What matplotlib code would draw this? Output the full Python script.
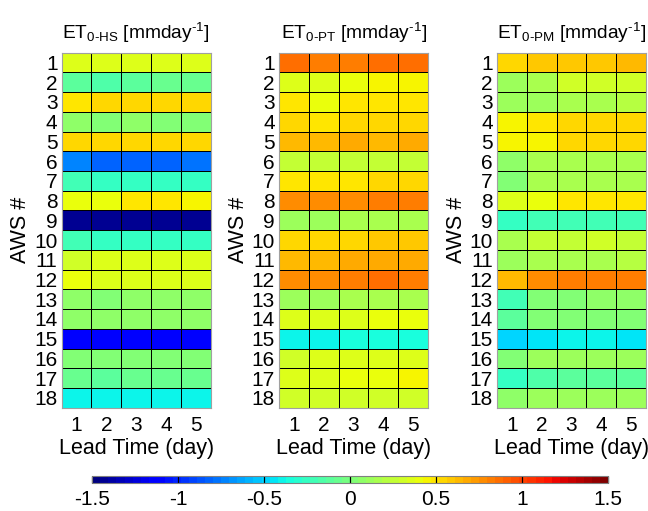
import matplotlib
matplotlib.use("Agg")
import matplotlib.pyplot as plt
import numpy as np

plt.rcParams['font.family'] = ['Liberation Sans', 'DejaVu Sans']
plt.rcParams['mathtext.fontset'] = 'custom'
plt.rcParams['mathtext.rm'] = 'Liberation Sans'
plt.rcParams['mathtext.it'] = 'Liberation Sans'

stations = [str(i) for i in range(1, 19)]
lead_days = [1, 2, 3, 4, 5]

# ET0 bias per station (rows) and lead day (columns)
et0_hs = [
    [0.33, 0.34, 0.35, 0.36, 0.36],
    [-0.10, -0.15, -0.12, -0.08, -0.08],
    [0.47, 0.53, 0.53, 0.56, 0.56],
    [0.05, 0.04, 0.06, 0.04, 0.04],
    [0.55, 0.52, 0.55, 0.56, 0.56],
    [-0.75, -0.80, -0.80, -0.80, -0.78],
    [-0.23, -0.27, -0.25, -0.25, -0.25],
    [0.42, 0.42, 0.47, 0.47, 0.46],
    [-1.45, -1.45, -1.45, -1.45, -1.45],
    [-0.23, -0.25, -0.25, -0.25, -0.26],
    [0.32, 0.33, 0.36, 0.36, 0.36],
    [0.38, 0.36, 0.36, 0.36, 0.36],
    [0.05, 0.04, 0.05, 0.05, 0.05],
    [0.05, 0.05, 0.05, 0.05, 0.05],
    [-1.17, -1.17, -1.17, -1.17, -1.17],
    [0.00, 0.00, 0.01, 0.01, 0.02],
    [-0.08, -0.10, -0.08, -0.08, -0.08],
    [-0.40, -0.40, -0.40, -0.40, -0.42],
]

et0_pt = [
    [0.85, 0.84, 0.84, 0.87, 0.86],
    [0.35, 0.35, 0.38, 0.46, 0.46],
    [0.47, 0.40, 0.47, 0.50, 0.50],
    [0.52, 0.47, 0.52, 0.52, 0.52],
    [0.64, 0.64, 0.66, 0.64, 0.66],
    [0.24, 0.24, 0.24, 0.26, 0.26],
    [0.47, 0.47, 0.50, 0.52, 0.53],
    [0.77, 0.79, 0.79, 0.80, 0.80],
    [0.13, 0.13, 0.15, 0.16, 0.18],
    [0.56, 0.56, 0.56, 0.58, 0.58],
    [0.62, 0.62, 0.68, 0.68, 0.68],
    [0.78, 0.79, 0.83, 0.86, 0.84],
    [0.13, 0.13, 0.15, 0.16, 0.18],
    [0.33, 0.34, 0.36, 0.38, 0.38],
    [-0.38, -0.40, -0.37, -0.36, -0.35],
    [0.32, 0.34, 0.36, 0.36, 0.37],
    [0.35, 0.37, 0.40, 0.40, 0.45],
    [0.30, 0.30, 0.31, 0.32, 0.32],
]

et0_pm = [
    [0.55, 0.57, 0.60, 0.60, 0.61],
    [0.13, 0.15, 0.30, 0.32, 0.32],
    [0.13, 0.13, 0.18, 0.18, 0.20],
    [0.43, 0.50, 0.52, 0.53, 0.53],
    [0.43, 0.46, 0.52, 0.53, 0.53],
    [0.06, 0.16, 0.16, 0.17, 0.18],
    [0.03, 0.15, 0.15, 0.16, 0.18],
    [0.37, 0.42, 0.47, 0.50, 0.50],
    [-0.27, -0.20, -0.20, -0.20, -0.20],
    [0.18, 0.28, 0.26, 0.30, 0.26],
    [0.13, 0.16, 0.16, 0.18, 0.20],
    [0.64, 0.75, 0.80, 0.83, 0.83],
    [-0.20, 0.00, 0.02, 0.05, 0.05],
    [-0.12, 0.00, 0.00, 0.02, 0.03],
    [-0.47, -0.45, -0.42, -0.42, -0.44],
    [0.03, 0.10, 0.10, 0.10, 0.12],
    [-0.25, -0.15, -0.12, -0.12, -0.12],
    [0.05, 0.10, 0.10, 0.10, 0.12],
]

panels = [
    (et0_hs, r'ET$_{\mathrm{0\text{-}HS}}$ [mmday$^{\mathrm{\text{-}1}}$]'),
    (et0_pt, r'ET$_{\mathrm{0\text{-}PT}}$ [mmday$^{\mathrm{\text{-}1}}$]'),
    (et0_pm, r'ET$_{\mathrm{0\text{-}PM}}$ [mmday$^{\mathrm{\text{-}1}}$]'),
]
lefts = [0.0952, 0.4306, 0.767]

cmap = plt.get_cmap('jet', 64)
fig = plt.figure(figsize=(6.48, 5.11), dpi=100)

for (data, title), left in zip(panels, lefts):
    ax = fig.add_axes([left, 0.202, 0.230, 0.695])
    z = np.array(data)
    mesh = ax.pcolormesh(np.arange(len(lead_days) + 1) + 0.5,
                         np.arange(len(stations) + 1) + 0.5, z,
                         cmap=cmap, vmin=-1.5, vmax=1.5,
                         edgecolors='k', linewidth=0.5)
    ax.set_xlim(0.5, 5.5)
    ax.set_ylim(18.5, 0.5)
    ax.set_xticks(lead_days)
    ax.set_yticks(range(1, 19))
    ax.set_yticklabels(stations)
    ax.tick_params(length=0, labelsize=15)
    ax.tick_params(axis='x', pad=6)
    ax.tick_params(axis='y', pad=3)
    for s in ax.spines.values():
        s.set_color('#a0a0a0')
    ax.set_title(title, fontsize=13.8, pad=10)
    ax.set_xlabel('Lead Time (day)', fontsize=15.5, labelpad=2)
    ax.set_ylabel('AWS #', fontsize=15.5, labelpad=2)

cax = fig.add_axes([0.1424, 0.0548, 0.796, 0.0143])
cb = fig.colorbar(mesh, cax=cax, orientation='horizontal')
cb.set_ticks([-1.5, -1, -0.5, 0, 0.5, 1, 1.5])
cb.set_ticklabels(['-1.5', '-1', '-0.5', '0', '0.5', '1', '1.5'])
cb.outline.set_edgecolor('#808080')
cax.tick_params(direction='in', length=5, width=0.8, labelsize=15, pad=5,
                top=True, bottom=True)

fig.savefig('out.png', dpi=100)
